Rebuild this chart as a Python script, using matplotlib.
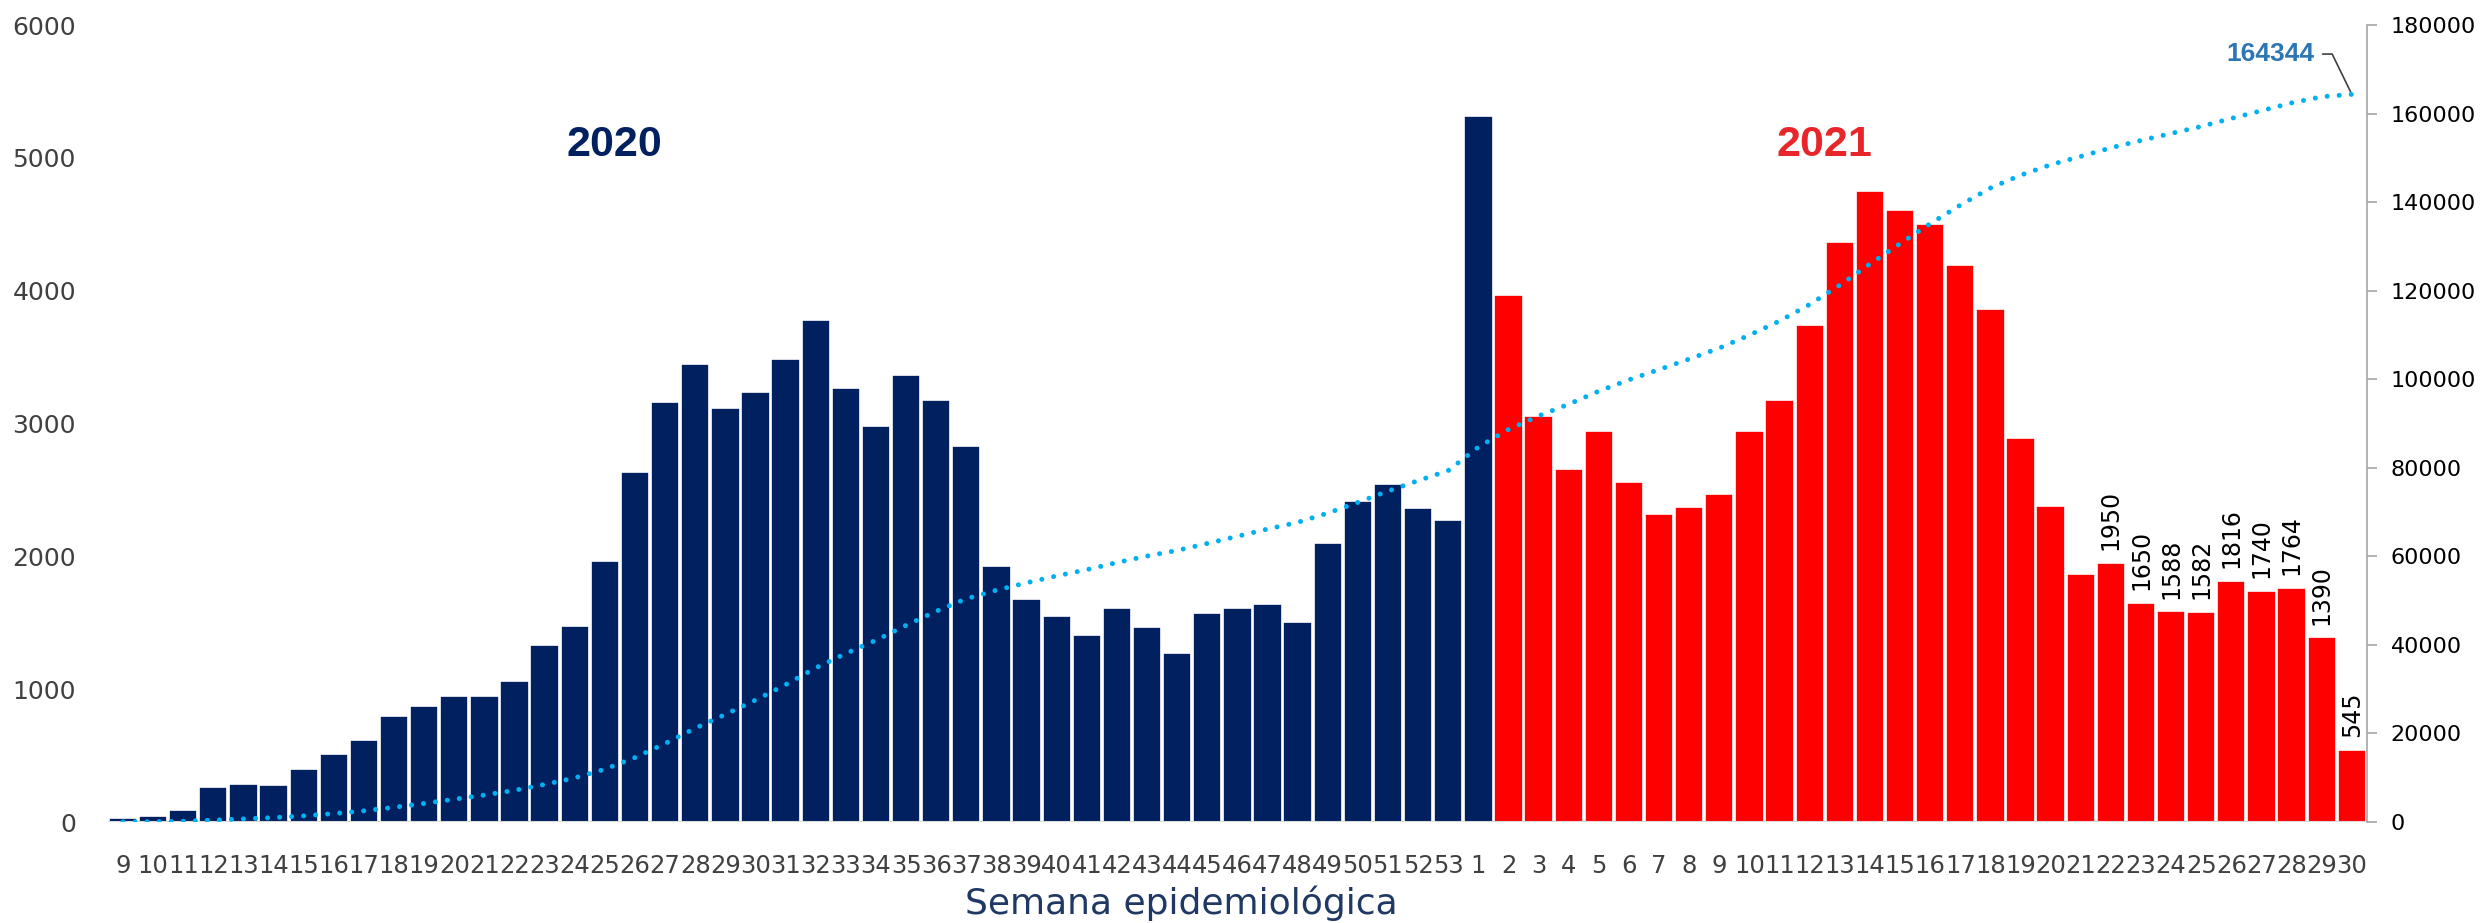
import numpy as np
import matplotlib.pyplot as plt

# weekly cases, epidemiological weeks
weeks_2020 = list(range(9, 54))
cases_2020 = [30, 45, 90, 260, 290, 280, 400, 515, 615, 800, 875, 950, 945, 1065, 1330,
              1475, 1965, 2635, 3165, 3450, 3120, 3235, 3485, 3780, 3270, 2985, 3365, 3180,
              2830, 1925, 1680, 1550, 1410, 1610, 1465, 1270, 1575, 1610, 1640, 1505, 2100,
              2415, 2545, 2365, 2275]
weeks_2021 = list(range(1, 31))
cases_2021 = [5315, 3964, 3060, 2660, 2940, 2560, 2320, 2370, 2470, 2945, 3175, 3740, 4370,
              4750, 4605, 4505, 4195, 3865, 2890, 2380, 1870, 1950, 1650, 1588, 1582, 1816,
              1740, 1764, 1390, 545]
labeled_weeks_2021 = [22, 23, 24, 25, 26, 27, 28, 29, 30]

navy = '#002060'
red = '#FF0000'
line_blue = '#00B0F0'

labels = [str(w) for w in weeks_2020] + [str(w) for w in weeks_2021]
values = np.array(cases_2020 + cases_2021)
x = np.arange(len(values))
# week 1 of 2021 is still drawn in the 2020 colour
colors = [navy] * (len(cases_2020) + 1) + [red] * (len(cases_2021) - 1)
cumulative = np.cumsum(values)

fig = plt.figure(figsize=(24.81, 9.23), dpi=100)
ax = fig.add_axes([0.0435, 0.1094, 0.9105, 0.8635])
ax2 = ax.twinx()

ax.bar(x, values, width=0.94, color=colors, edgecolor='white', linewidth=1.2, zorder=2)
ax.axhline(0, color='#d9d9d9', lw=1.5, zorder=3)
ax.set_xlim(-0.5, len(values) - 0.5)
ax.set_ylim(0, 6000)
ax.set_yticks(range(0, 6001, 1000))
ax.set_xticks(x)
ax.set_xticklabels(labels)
ax.tick_params(axis='x', length=0, pad=23, labelsize=17.5, labelcolor='#404040')
ax.tick_params(axis='y', length=0, pad=23, labelsize=18, labelcolor='#404040')
for s in ['top', 'left', 'right', 'bottom']:
    ax.spines[s].set_visible(False)

# labels on the last weeks of 2021
for w in labeled_weeks_2021:
    i = len(cases_2020) + weeks_2021.index(w)
    ax.annotate(str(values[i]), xy=(x[i], values[i]), xytext=(0, 9), textcoords='offset points',
                rotation=90, ha='center', va='bottom', fontsize=17, color='black')

ax.text(16.3, 5100, '2020', fontsize=31, fontweight='bold', color=navy,
        family='Liberation Sans', ha='center', va='center')
ax.text(56.5, 5100, '2021', fontsize=31, fontweight='bold', color='#E8262A',
        family='Liberation Sans', ha='center', va='center')

# cumulative line
ax2.plot(x, cumulative, color=line_blue, lw=3.6, linestyle=(0, (0.01, 2.4)),
         dash_capstyle='round', zorder=4)
ax2.set_ylim(0, 180000)
ax2.set_yticks(range(0, 180001, 20000))
ax2.tick_params(axis='y', length=7, width=1.2, color='#a6a6a6', pad=10,
                labelsize=16, labelcolor='black')
for s in ['top', 'left', 'bottom']:
    ax2.spines[s].set_visible(False)
ax2.spines['right'].set_color('#a6a6a6')
ax2.spines['right'].set_linewidth(1.2)

ax2.annotate(str(cumulative[-1]), xy=(x[-1], cumulative[-1]), xytext=(-27, 29),
             textcoords='offset points', ha='right', va='center', fontsize=19,
             fontweight='bold', color='#2E75B6', family='Liberation Sans',
             arrowprops=dict(arrowstyle='-', color='#404040', lw=1.2, shrinkA=4, shrinkB=2,
                             connectionstyle='angle,angleA=0,angleB=116,rad=0'))

fig.text(1181 / 2481, 1 - 903 / 923, 'Semana epidemiológica', fontsize=26,
         color='#1F3864', ha='center', va='center')

fig.savefig('out.png', dpi=100)
